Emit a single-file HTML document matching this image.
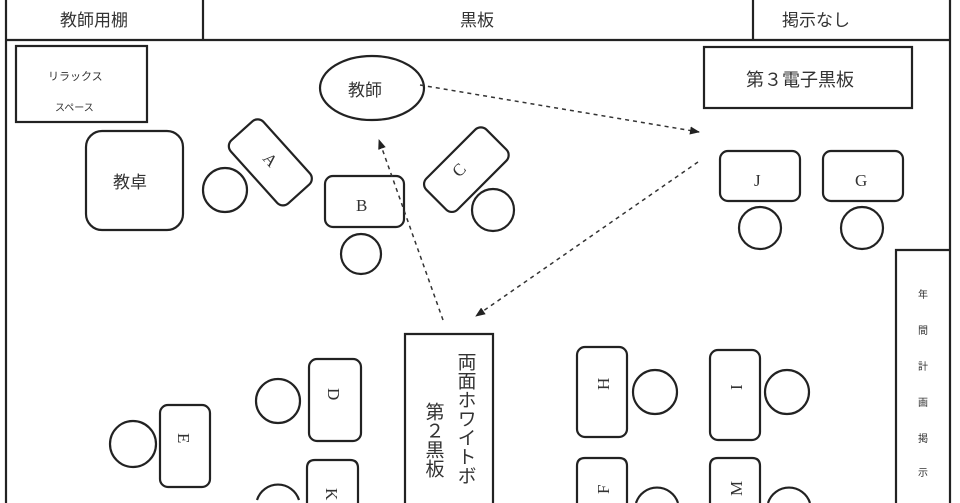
<!DOCTYPE html>
<html><head><meta charset="utf-8"><style>
html,body{margin:0;padding:0;background:#fff;width:960px;height:503px;overflow:hidden}
svg{display:block}
svg text{font-family:"Liberation Serif","Noto Serif CJK SC","Noto Sans CJK JP",serif;fill:#333}
.j{font-family:"Liberation Sans","Noto Sans CJK JP",sans-serif}
</style></head><body>
<svg width="960" height="503" viewBox="0 0 960 503" xmlns="http://www.w3.org/2000/svg" style="overflow:hidden">
<defs>
<marker id="ah" markerWidth="10" markerHeight="8" refX="9" refY="4" orient="auto" markerUnits="userSpaceOnUse"><path d="M0,0 L10,4 L0,8 z" fill="#222"/></marker>
<clipPath id="cp"><rect x="0" y="0" width="960" height="503"/></clipPath>
</defs>
<g clip-path="url(#cp)">
<g fill="none" stroke="#222" stroke-width="2.2">
<line x1="6" y1="0" x2="6" y2="503"/>
<line x1="950" y1="0" x2="950" y2="503"/>
<line x1="6" y1="40" x2="950" y2="40"/>
<line x1="203" y1="0" x2="203" y2="40"/>
<line x1="753" y1="0" x2="753" y2="40"/>
<rect x="16" y="46" width="131" height="76"/>
<rect x="86" y="131" width="97" height="99" rx="16"/>
<ellipse cx="372" cy="88" rx="52" ry="32"/>
<rect x="228" y="140" width="85" height="44" rx="8" transform="rotate(48 270 162)"/>
<circle cx="225" cy="190" r="22"/>
<rect x="325" y="176" width="79" height="51" rx="8"/>
<circle cx="361" cy="254" r="20"/>
<rect x="424" y="148" width="85" height="44" rx="8" transform="rotate(-45 466 170)"/>
<circle cx="493" cy="210" r="21"/>
<rect x="704" y="47" width="208" height="61"/>
<rect x="720" y="151" width="80" height="50" rx="8"/>
<circle cx="760" cy="228" r="21"/>
<rect x="823" y="151" width="80" height="50" rx="8"/>
<circle cx="862" cy="228" r="21"/>
<path d="M896,503 V250 H950"/>
<path d="M405,503 V334 H493 V503"/>
<rect x="577" y="347" width="50" height="90" rx="8"/>
<circle cx="655" cy="392" r="22"/>
<rect x="710" y="350" width="50" height="90" rx="8"/>
<circle cx="787" cy="392" r="22"/>
<path d="M577,503 V466 Q577,458 585,458 H619 Q627,458 627,466 V503"/>
<path d="M636,503 A22,22 0 0 1 678,503"/>
<path d="M710,503 V466 Q710,458 718,458 H752 Q760,458 760,466 V503"/>
<path d="M768,503 A22,22 0 0 1 810,503"/>
<rect x="309" y="359" width="52" height="82" rx="8"/>
<circle cx="278" cy="401" r="22"/>
<path d="M307,503 V468 Q307,460 315,460 H350 Q358,460 358,468 V503"/>
<path d="M257,500 A22,22 0 0 1 299,500"/>
<rect x="160" y="405" width="50" height="82" rx="8"/>
<circle cx="133" cy="444" r="23"/>
</g>
<g stroke="#333" stroke-width="1.5" stroke-dasharray="4,4" fill="none">
<line x1="420" y1="85" x2="699" y2="132" marker-end="url(#ah)"/>
<line x1="698" y1="162" x2="476" y2="316" marker-end="url(#ah)"/>
<line x1="443" y1="320" x2="379" y2="140" marker-end="url(#ah)"/>
</g>
<g font-size="17">
<text x="60" y="26" class="j">教師用棚</text>
<text x="460" y="26" class="j">黒板</text>
<text x="782" y="26" class="j">掲示なし</text>
<text x="746" y="86" class="j" font-size="18">第３電子黒板</text>
<text x="348" y="96" class="j" font-size="17">教師</text>
<text x="113" y="188" class="j" font-size="17">教卓</text>
<text x="48" y="80" class="j" font-size="11">リラックス</text>
<text x="55" y="111" class="j" font-size="10">スペース</text>
</g>
<g font-size="17">
<text x="356" y="211">B</text>
<text x="754" y="186">J</text>
<text x="855" y="186">G</text>
<text transform="translate(262 159) rotate(48)">A</text>
<text transform="translate(459 178) rotate(-45)">C</text>
<text transform="translate(328 388) rotate(90)">D</text>
<text transform="translate(178 433) rotate(90)">E</text>
<text transform="translate(326 488) rotate(90)">K</text>
<text transform="translate(609 390) rotate(-90)">H</text>
<text transform="translate(742 390) rotate(-90)">I</text>
<text transform="translate(609 494) rotate(-90)">F</text>
<text transform="translate(742 496) rotate(-90)">M</text>
</g>
<g font-size="10">
<text x="918" y="298" class="j">年</text>
<text x="918" y="334" class="j">間</text>
<text x="918" y="370" class="j">計</text>
<text x="918" y="406" class="j">画</text>
<text x="918" y="442" class="j">掲</text>
<text x="918" y="476" class="j">示</text>
</g>
<text x="465" y="352" class="j" font-size="19" style="writing-mode:vertical-rl">両面ホワイトボ</text>
<text x="433" y="402" class="j" font-size="19" style="writing-mode:vertical-rl">第２黒板</text>
</g>
</svg>
</body></html>
